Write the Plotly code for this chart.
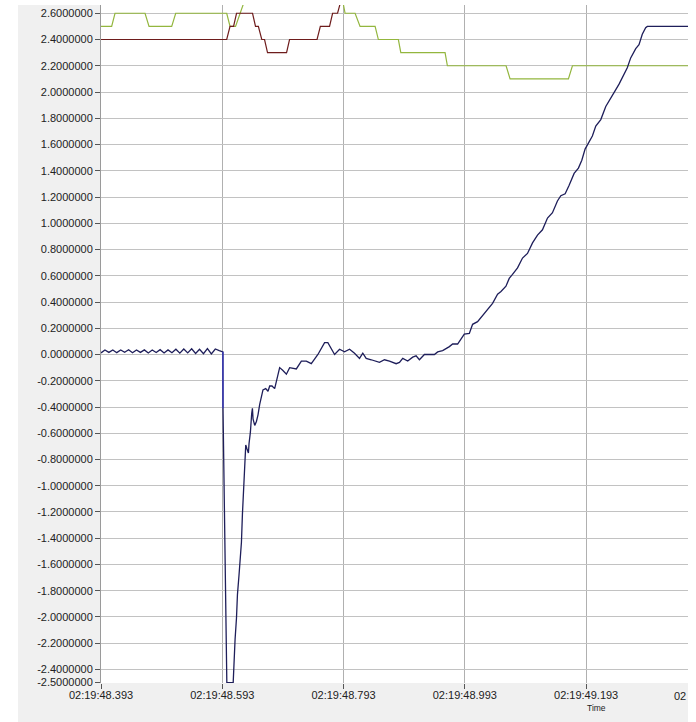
import plotly.graph_objects as go

# ---- data: seconds past 02:19 -------------------------------------------
x_tick_vals = [48.393, 48.593, 48.793, 48.993, 49.193]
x_tick_text = ["02:19:48.393", "02:19:48.593", "02:19:48.793", "02:19:48.993", "02:19:49.193"]
edge_tick_text = "02"          # visible start of the 02:19:49.393 label at the panel edge
x_range = [48.393, 49.361]

y_tick_vals = [-2.5, -2.4, -2.2, -2.0, -1.8, -1.6, -1.4, -1.2, -1.0, -0.8, -0.6, -0.4, -0.2,
               0.0, 0.2, 0.4, 0.6, 0.8, 1.0, 1.2, 1.4, 1.6, 1.8, 2.0, 2.2, 2.4, 2.6]
y_range = [-2.503, 2.663]

# main measured signal
signal_t = [
    48.3930, 48.3995, 48.4060, 48.4125, 48.4190, 48.4255, 48.4320, 48.4385,
    48.4450, 48.4515, 48.4580, 48.4645, 48.4710, 48.4775, 48.4840, 48.4905,
    48.4970, 48.5035, 48.5100, 48.5165, 48.5230, 48.5295, 48.5360, 48.5425,
    48.5490, 48.5555, 48.5620, 48.5685, 48.5750, 48.5815, 48.5880, 48.5940,
    48.5942, 48.5965, 48.5975, 48.5990, 48.6005, 48.6110,
    48.6124, 48.6141, 48.6164, 48.6180, 48.6206, 48.6229, 48.6246, 48.6262,
    48.6284, 48.6305, 48.6317, 48.6338, 48.6361, 48.6371, 48.6394, 48.6415,
    48.6427, 48.6437, 48.6465, 48.6493, 48.6519, 48.6547, 48.6601, 48.6646,
    48.6684, 48.6712, 48.6750, 48.6794, 48.6876, 48.6926, 48.6987, 48.7041,
    48.7151, 48.7234, 48.7316, 48.7398, 48.7507, 48.7617, 48.7671, 48.7782,
    48.7864, 48.7946, 48.8029, 48.8111, 48.8193, 48.8247, 48.8303, 48.8386,
    48.8522, 48.8605, 48.8687, 48.8797, 48.8852, 48.8906, 48.8988, 48.9070,
    48.9126, 48.9181, 48.9263, 48.9345, 48.9428, 48.9482, 48.9564, 48.9675,
    48.9729, 48.9811, 48.9867, 48.9921, 49.0004, 49.0058, 49.0140, 49.0251,
    49.0333, 49.0387, 49.0470, 49.0526, 49.0608, 49.0662, 49.0716, 49.0799,
    49.0881, 49.0963, 49.1046, 49.1128, 49.1210, 49.1293, 49.1375, 49.1457,
    49.1513, 49.1584, 49.1650, 49.1732, 49.1803, 49.1859, 49.1913, 49.1967,
    49.2033, 49.2089, 49.2172, 49.2254, 49.2336, 49.2390, 49.2473, 49.2555,
    49.2609, 49.2665, 49.2748, 49.2802, 49.2856, 49.2912, 49.2939, 49.3618,
]
signal_v = [
    0.012, 0.034, 0.016, 0.035, 0.014, 0.034, 0.017, 0.036,
    0.013, 0.034, 0.016, 0.035, 0.012, 0.034, 0.015, 0.037,
    0.012, 0.035, 0.014, 0.040, 0.010, 0.042, 0.012, 0.044,
    0.008, 0.040, 0.006, 0.045, 0.004, 0.042, 0.030, 0.020,
    -0.41, -1.25, -1.50, -2.08, -2.50, -2.50,
    -2.32, -2.17, -2.01, -1.83, -1.68, -1.55, -1.43, -1.22,
    -1.02, -0.82, -0.69, -0.72, -0.75, -0.68, -0.59, -0.45,
    -0.41, -0.49, -0.54, -0.51, -0.46, -0.38, -0.27, -0.26,
    -0.28, -0.24, -0.24, -0.26, -0.10, -0.12, -0.15, -0.10,
    -0.11, -0.05, -0.05, -0.07, 0.00, 0.09, 0.09, 0.00,
    0.04, 0.02, 0.04, 0.01, -0.03, 0.01, -0.03, -0.04,
    -0.06, -0.04, -0.05, -0.07, -0.06, -0.03, -0.05, -0.02,
    -0.01, -0.04, 0.00, 0.00, 0.00, 0.02, 0.03, 0.06,
    0.08, 0.08, 0.12, 0.155, 0.16, 0.23, 0.25, 0.31,
    0.36, 0.39, 0.46, 0.48, 0.52, 0.58, 0.61, 0.66,
    0.735, 0.77, 0.85, 0.91, 0.95, 1.04, 1.08, 1.17,
    1.21, 1.225, 1.29, 1.38, 1.42, 1.48, 1.565, 1.61,
    1.665, 1.74, 1.79, 1.89, 1.96, 1.995, 2.06, 2.135,
    2.185, 2.26, 2.33, 2.36, 2.44, 2.49, 2.50, 2.50,
]

# second signal, only separate from the first during the step
step_t = [48.5940, 48.5942]
step_v = [0.020, -0.41]

# stepped setpoint (dark red)
setpoint_t = [48.3930, 48.6003, 48.6058, 48.6116, 48.6165, 48.6429, 48.6478, 48.6525,
              48.6581, 48.6627, 48.6676, 48.6990, 48.7039, 48.7493, 48.7547, 48.7699,
              48.7749, 48.7831, 48.7889, 48.7946]
setpoint_v = [2.4, 2.4, 2.5, 2.5, 2.6, 2.6, 2.5, 2.5,
              2.4, 2.4, 2.3, 2.3, 2.4, 2.4, 2.5, 2.5,
              2.6, 2.6, 2.7, 2.8]

# stepped limit (green)
limit_t = [48.3930, 48.4106, 48.4161, 48.4656, 48.4722, 48.5096, 48.5162, 48.6003,
           48.6058, 48.6149, 48.6338, 48.7872, 48.7955, 48.8120, 48.8202, 48.8450,
           48.8504, 48.8834, 48.8874, 48.9604, 48.9642, 49.0610, 49.0676, 49.1638,
           49.1704, 49.3618]
limit_v = [2.5, 2.5, 2.6, 2.6, 2.5, 2.5, 2.6, 2.6,
           2.5, 2.5, 2.75, 2.8, 2.6, 2.6, 2.5, 2.5,
           2.4, 2.4, 2.3, 2.3, 2.2, 2.2, 2.1, 2.1,
           2.2, 2.2]

# ---- figure ---------------------------------------------------------------
W, H = 688, 722
ML, MR, MT, MB = 101, 0, 5, 39
plot_w = W - ML - MR
plot_h = H - MT - MB

fig = go.Figure()
fig.add_trace(go.Scatter(x=limit_t, y=limit_v, mode="lines",
                         line=dict(color="#93b63e", width=1.2)))
fig.add_trace(go.Scatter(x=setpoint_t, y=setpoint_v, mode="lines",
                         line=dict(color="#6e1c1c", width=1.2)))
fig.add_trace(go.Scatter(x=signal_t, y=signal_v, mode="lines",
                         line=dict(color="#1e1e5a", width=1.3)))
fig.add_trace(go.Scatter(x=step_t, y=step_v, mode="lines",
                         line=dict(color="#3a3ac0", width=1.3)))

font = dict(family="Arial, 'Liberation Sans', sans-serif", size=11, color="#222222")

fig.update_layout(
    width=W, height=H,
    margin=dict(l=ML, r=MR, t=MT, b=MB, pad=0),
    paper_bgcolor="#f0f0f0",
    plot_bgcolor="#ffffff",
    showlegend=False,
    font=font,
    xaxis=dict(
        range=x_range, tickmode="array", tickvals=x_tick_vals, ticktext=x_tick_text,
        showgrid=True, gridcolor="#b0b0b0", gridwidth=1,
        ticks="outside", ticklen=5, tickcolor="#555555", tickwidth=1,
        ticklabelstandoff=-3,
        showline=False, zeroline=False, fixedrange=True,
    ),
    yaxis=dict(
        range=y_range, tickmode="array", tickvals=y_tick_vals,
        ticktext=[f"{v:.7f}" for v in y_tick_vals],
        showgrid=True, gridcolor="#c2c2c2", gridwidth=1,
        ticks="outside", ticklen=5, tickcolor="#555555", tickwidth=1,
        showline=True, linecolor="#9a9a9a", linewidth=1,
        zeroline=False, fixedrange=True,
    ),
    shapes=[
        # white margin to the left of the grey panel
        dict(type="rect", xref="paper", yref="paper", layer="below",
             x0=-ML / plot_w - 0.01, x1=(18 - ML) / plot_w, y0=-0.1, y1=1.1,
             fillcolor="#ffffff", line=dict(width=0)),
        # white margin above the panel
        dict(type="rect", xref="paper", yref="paper", layer="below",
             x0=-0.2, x1=1.1, y0=1.0, y1=1.05,
             fillcolor="#ffffff", line=dict(width=0)),
    ],
    annotations=[
        # start of the next tick label, where the panel edge cuts it
        dict(text=edge_tick_text, xref="paper", yref="paper",
             x=1.0, y=0, yanchor="top", xanchor="right", xshift=0, yshift=-5,
             showarrow=False, font=font),
        dict(text="Time", xref="paper", yref="paper",
             x=(596 - ML) / plot_w, y=-25 / plot_h,
             xanchor="center", yanchor="middle", showarrow=False,
             font=dict(family=font["family"], size=8.5, color="#222222")),
    ],
)

fig.write_html("out.html")
